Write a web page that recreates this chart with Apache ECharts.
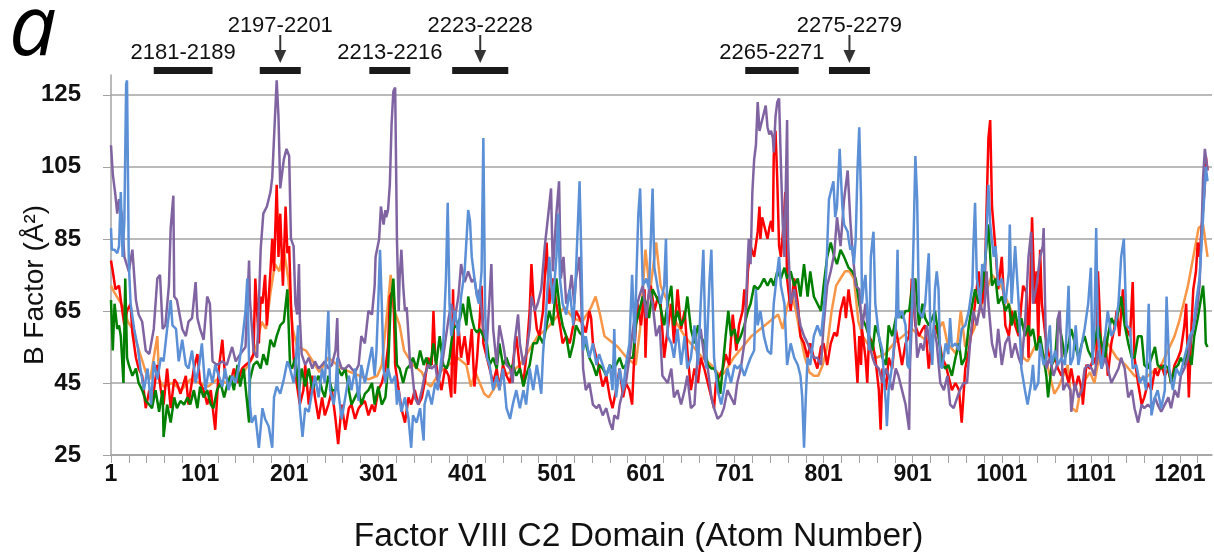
<!DOCTYPE html>
<html>
<head>
<meta charset="utf-8">
<script src="https://cdn.jsdelivr.net/npm/echarts@6/dist/echarts.min.js"></script>
<style>
  html, body { margin: 0; padding: 0; background: #fff; }
  #main { width: 1214px; height: 552px; }
</style>
</head>
<body>
<div id="main"></div>
<script>
  // atom axis + B factor ticks
  const atomCount = 1236
  const yTicks = [25, 45, 65, 85, 105, 125]

  // [atom number, B factor]
  const orange = [[1,72],[5,70],[10,68],[15,66],[20,62],[25,60],[30,56],[35,52],[40,48],[45,46],[53,58],[55,46],[60,44],[70,45],[80,43],[90,46],[100,45],[110,44],[120,46],[130,45],[140,47],[150,48],[160,52],[165,56],[170,62],[175,60],[180,70],[185,78],[190,76],[195,82],[200,74],[205,60],[210,55],[220,54],[225,52],[235,48],[245,52],[250,51],[260,49],[270,48],[280,47],[290,46],[300,47],[305,50],[310,62],[315,75],[318,66],[325,61],[330,54],[340,50],[350,48],[355,45],[360,44],[370,48],[380,50],[390,52],[400,50],[405,44],[410,48],[415,45],[420,42],[425,41],[430,43],[440,47],[450,48],[460,50],[470,54],[480,58],[490,60],[500,63],[510,66],[520,63],[530,62],[540,66],[545,69],[550,64],[555,58],[560,57],[570,55],[580,52],[590,50],[595,60],[601,82],[606,70],[613,84],[618,72],[625,68],[635,62],[645,58],[655,55],[665,52],[675,50],[685,47],[690,48],[700,52],[710,55],[720,58],[730,60],[740,62],[750,64],[755,60],[760,66],[765,70],[770,65],[775,58],[780,52],[785,48],[790,47],[795,47],[800,50],[805,55],[810,65],[815,72],[820,74],[825,76],[830,76],[835,74],[840,62],[845,58],[850,56],[855,55],[860,52],[870,53],[880,56],[890,58],[900,60],[910,58],[920,56],[930,60],[935,62],[940,56],[950,53],[955,65],[960,55],[970,60],[980,68],[990,75],[1000,72],[1010,66],[1020,60],[1025,52],[1030,51],[1040,56],[1050,52],[1060,42],[1065,44],[1075,50],[1080,38],[1085,37],[1090,44],[1100,48],[1105,45],[1110,52],[1120,56],[1130,52],[1140,50],[1150,47],[1160,46],[1165,47],[1170,48],[1180,50],[1195,58],[1200,62],[1210,72],[1222,88],[1227,89],[1232,80]]

  const red = [[1,79],[3,76],[6,71],[10,72],[12,68],[16,61],[19,65],[23,67],[25,59],[29,52],[32,49],[36,47],[40,38],[44,43],[47,39],[53,50],[57,43],[60,39],[64,49],[68,38],[72,46],[75,45],[79,42],[85,47],[88,39],[94,49],[98,53],[101,45],[105,43],[109,39],[113,43],[118,32],[122,49],[126,57],[129,47],[135,45],[139,49],[143,45],[148,49],[152,50],[157,51],[161,53],[163,74],[167,56],[169,69],[171,67],[174,75],[176,61],[180,76],[182,85],[184,76],[187,100],[189,80],[191,92],[194,72],[197,94],[199,81],[201,83],[203,67],[206,52],[210,44],[213,39],[217,43],[219,50],[223,39],[227,47],[230,41],[234,35],[238,41],[241,36],[245,39],[249,43],[253,35],[256,28],[260,39],[264,32],[268,38],[271,39],[275,35],[279,38],[282,39],[286,40],[290,36],[294,39],[297,37],[301,43],[305,45],[309,49],[312,55],[314,69],[318,71],[320,50],[324,43],[327,38],[331,34],[335,41],[338,39],[342,43],[346,39],[350,41],[353,45],[357,52],[361,50],[363,65],[365,52],[368,47],[372,43],[376,49],[380,47],[383,41],[385,71],[387,42],[391,61],[394,52],[398,58],[402,50],[406,60],[409,44],[412,52],[415,63],[417,72],[419,56],[423,52],[426,49],[430,45],[434,49],[437,43],[441,50],[445,47],[449,45],[452,50],[456,58],[460,49],[464,45],[467,52],[471,65],[473,78],[475,69],[479,60],[482,58],[486,65],[490,84],[493,67],[497,74],[501,67],[505,61],[508,56],[512,58],[516,56],[520,61],[523,65],[527,63],[531,61],[534,59],[538,65],[540,63],[542,56],[546,52],[549,49],[553,44],[557,47],[561,41],[564,38],[568,43],[572,49],[576,41],[579,45],[583,43],[586,39],[589,56],[592,67],[596,61],[600,71],[601,52],[603,67],[607,72],[611,65],[615,69],[618,67],[622,52],[626,60],[630,67],[633,56],[637,71],[641,60],[645,65],[648,54],[652,43],[656,49],[660,45],[663,52],[667,49],[671,45],[675,41],[678,38],[680,45],[684,47],[688,49],[691,53],[695,50],[699,64],[703,54],[706,61],[710,65],[712,71],[714,65],[716,76],[719,83],[723,80],[727,87],[729,94],[730,85],[732,91],[734,89],[736,87],[738,85],[740,88],[742,90],[744,87],[745,108],[747,115],[749,101],[751,83],[753,80],[756,89],[758,98],[760,74],[764,65],[768,74],[772,67],[775,58],[779,56],[783,52],[786,56],[790,52],[794,49],[798,55],[801,56],[805,50],[809,56],[813,59],[816,58],[820,65],[824,69],[826,63],[829,71],[831,67],[835,61],[839,45],[841,58],[843,50],[844,60],[848,52],[850,45],[852,58],[856,56],[859,52],[863,43],[865,32],[867,49],[871,43],[874,52],[878,49],[882,60],[885,56],[889,50],[893,56],[897,58],[900,74],[904,61],[908,58],[912,60],[915,61],[919,49],[923,58],[926,61],[930,58],[934,52],[938,50],[941,47],[945,43],[949,45],[953,43],[956,34],[960,49],[964,54],[968,61],[971,67],[975,76],[979,67],[982,74],[984,94],[986,113],[988,118],[990,94],[994,82],[997,71],[1001,80],[1005,61],[1009,58],[1012,65],[1016,61],[1020,58],[1023,67],[1025,72],[1029,70],[1031,52],[1035,91],[1038,67],[1040,76],[1042,56],[1044,82],[1046,67],[1050,58],[1053,54],[1057,50],[1061,52],[1064,49],[1068,47],[1072,49],[1076,45],[1079,49],[1083,43],[1087,47],[1091,43],[1092,39],[1096,50],[1100,49],[1104,52],[1107,50],[1109,76],[1113,52],[1117,58],[1120,47],[1124,56],[1128,61],[1130,65],[1133,58],[1137,71],[1141,60],[1145,58],[1148,73],[1150,52],[1154,45],[1158,39],[1161,41],[1165,45],[1169,43],[1173,49],[1176,47],[1180,50],[1184,47],[1188,49],[1191,45],[1195,50],[1199,52],[1202,54],[1206,61],[1208,67],[1211,41],[1214,61],[1216,71],[1219,76],[1221,84],[1223,80],[1226,90],[1229,100],[1230,108],[1232,104]]

  const green = [[1,68],[3,54],[5,67],[8,60],[10,61],[12,58],[15,45],[17,74],[19,52],[21,50],[25,47],[29,49],[32,45],[36,43],[40,40],[44,39],[47,38],[51,43],[55,37],[59,43],[60,30],[64,39],[68,34],[72,41],[75,38],[79,40],[83,39],[87,41],[90,39],[94,43],[98,38],[101,44],[105,41],[109,43],[113,39],[116,38],[120,43],[124,45],[128,41],[131,44],[135,47],[139,43],[143,50],[146,44],[150,49],[154,39],[156,34],[157,46],[161,50],[165,51],[169,49],[172,53],[176,50],[180,57],[184,55],[187,58],[191,61],[195,62],[199,71],[202,50],[204,49],[208,52],[212,43],[215,49],[219,44],[223,49],[227,43],[230,45],[234,47],[238,43],[241,41],[245,47],[249,43],[253,43],[256,49],[260,47],[264,49],[268,43],[271,39],[275,41],[279,43],[282,39],[286,42],[290,43],[294,45],[297,39],[301,44],[305,39],[309,41],[312,49],[315,67],[318,74],[320,63],[322,50],[325,49],[329,45],[333,49],[337,50],[340,52],[344,49],[348,54],[352,50],[355,52],[359,49],[363,56],[366,50],[370,58],[374,50],[378,49],[381,52],[385,60],[389,61],[393,63],[396,67],[400,61],[402,69],[406,63],[409,60],[412,59],[415,60],[419,58],[423,56],[426,50],[430,52],[434,49],[437,56],[441,50],[445,52],[449,49],[452,50],[456,47],[460,49],[464,44],[467,47],[471,50],[475,56],[479,56],[482,58],[486,56],[490,61],[493,65],[497,61],[501,74],[505,65],[508,61],[512,58],[516,52],[520,56],[523,61],[527,59],[531,58],[534,56],[538,52],[542,50],[546,47],[549,50],[553,49],[557,47],[561,50],[564,49],[568,50],[572,52],[576,49],[579,50],[583,52],[587,52],[590,61],[594,65],[598,69],[602,67],[605,63],[609,71],[613,69],[617,67],[622,61],[626,67],[630,72],[633,61],[637,65],[641,61],[645,63],[648,69],[652,60],[656,56],[660,61],[663,58],[667,56],[671,50],[675,49],[678,49],[682,47],[685,42],[688,50],[691,58],[694,65],[697,58],[701,60],[704,56],[708,58],[712,61],[716,65],[719,67],[723,72],[727,71],[730,72],[734,74],[738,72],[742,74],[745,72],[749,76],[753,74],[757,77],[760,74],[764,76],[768,72],[772,74],[775,69],[779,78],[783,69],[786,76],[790,69],[794,67],[798,65],[801,72],[805,80],[809,84],[813,80],[816,78],[820,82],[824,80],[829,77],[833,76],[837,74],[841,67],[844,63],[848,61],[852,58],[856,54],[859,61],[863,58],[867,52],[871,50],[874,61],[878,58],[882,63],[885,65],[889,63],[893,65],[897,65],[900,71],[904,74],[908,61],[912,67],[915,63],[919,61],[923,63],[926,65],[930,58],[934,50],[938,49],[941,50],[945,47],[949,52],[953,56],[956,50],[960,52],[964,61],[968,67],[971,71],[975,67],[979,71],[982,78],[986,89],[990,72],[994,74],[997,67],[1001,69],[1005,65],[1009,67],[1012,61],[1016,65],[1020,59],[1023,63],[1027,58],[1031,61],[1033,58],[1036,60],[1040,54],[1044,58],[1048,52],[1051,47],[1053,41],[1057,50],[1061,52],[1064,63],[1068,58],[1072,52],[1076,56],[1079,60],[1083,56],[1087,52],[1091,56],[1094,58],[1098,54],[1102,52],[1105,56],[1109,61],[1113,56],[1117,52],[1120,58],[1124,63],[1128,61],[1132,65],[1135,69],[1139,61],[1143,56],[1147,52],[1150,52],[1154,58],[1158,58],[1161,50],[1165,49],[1169,52],[1173,55],[1176,50],[1180,49],[1184,50],[1188,49],[1191,45],[1195,49],[1199,50],[1202,52],[1206,50],[1210,54],[1214,50],[1217,58],[1221,63],[1225,69],[1227,72],[1229,65],[1230,56],[1232,55]]

  const purple = [[1,111],[3,103],[6,97],[8,92],[10,96],[13,92],[16,80],[21,76],[25,82],[27,82],[29,68],[32,64],[36,62],[40,54],[44,53],[49,60],[53,74],[56,75],[59,60],[62,61],[66,72],[68,88],[71,97],[72,69],[75,68],[81,60],[85,58],[88,62],[92,63],[96,73],[98,63],[101,60],[105,57],[109,69],[112,67],[115,51],[120,50],[126,51],[131,50],[137,55],[141,51],[146,53],[152,55],[156,79],[157,68],[161,54],[165,52],[169,82],[172,92],[176,94],[180,98],[182,102],[184,113],[187,129],[189,119],[191,99],[195,107],[198,110],[201,108],[203,85],[206,83],[208,67],[210,64],[212,78],[213,63],[215,53],[219,50],[223,52],[227,49],[230,51],[234,49],[238,50],[241,51],[245,49],[249,50],[253,54],[255,63],[256,52],[260,49],[264,49],[268,50],[271,49],[275,48],[279,50],[282,58],[286,56],[290,65],[294,64],[297,72],[298,80],[300,80],[302,85],[304,94],[307,89],[309,93],[310,91],[312,93],[314,100],[316,117],[318,126],[320,127],[322,85],[324,65],[325,74],[327,82],[329,72],[331,65],[333,66],[335,58],[337,49],[338,51],[342,41],[346,39],[350,43],[353,47],[357,50],[361,49],[365,50],[368,45],[372,49],[376,56],[380,63],[383,67],[387,63],[391,69],[394,78],[398,73],[402,76],[406,73],[409,74],[412,69],[415,71],[419,60],[423,56],[426,69],[428,78],[430,60],[434,50],[437,61],[441,56],[445,50],[449,49],[452,45],[454,56],[458,64],[460,56],[464,50],[467,53],[471,60],[473,69],[477,65],[480,67],[484,71],[488,83],[492,92],[495,99],[497,76],[501,92],[504,101],[506,74],[509,80],[512,67],[516,71],[518,75],[521,67],[523,74],[527,80],[529,67],[531,49],[534,43],[538,45],[542,39],[546,38],[549,39],[553,36],[557,38],[561,34],[564,32],[566,36],[570,35],[572,39],[576,43],[579,45],[583,52],[587,60],[590,65],[594,69],[598,72],[602,63],[605,71],[609,67],[613,58],[617,61],[620,47],[622,47],[626,45],[630,49],[633,41],[637,43],[641,39],[645,43],[648,47],[652,38],[656,39],[658,47],[661,58],[663,60],[667,52],[671,49],[675,41],[678,38],[682,35],[686,36],[689,38],[693,43],[697,41],[701,39],[704,45],[708,49],[712,56],[716,80],[717,85],[719,78],[721,98],[723,107],[725,111],[727,123],[729,115],[732,118],[734,120],[736,122],[738,116],[740,114],[742,115],[744,113],[745,109],[747,119],[749,123],[751,124],[753,106],[755,90],[757,80],[760,118],[761,85],[764,67],[768,71],[772,65],[775,61],[779,58],[783,56],[786,54],[790,52],[794,52],[798,50],[801,61],[805,72],[809,76],[813,81],[816,91],[820,83],[824,96],[828,104],[831,90],[833,83],[837,72],[841,71],[844,60],[848,67],[852,56],[856,52],[859,50],[863,49],[867,45],[871,49],[874,47],[878,43],[882,49],[885,47],[889,43],[893,39],[897,32],[898,50],[902,74],[906,52],[910,56],[913,54],[917,61],[921,54],[925,60],[928,56],[932,45],[936,43],[940,47],[943,39],[947,38],[951,41],[954,43],[958,45],[962,45],[966,58],[969,65],[973,61],[977,67],[981,63],[984,76],[986,67],[990,56],[994,52],[997,60],[1001,50],[1005,56],[1009,58],[1012,52],[1016,56],[1020,52],[1023,50],[1027,61],[1031,80],[1034,87],[1036,67],[1040,72],[1044,80],[1047,83],[1048,88],[1051,49],[1055,52],[1059,47],[1063,50],[1064,63],[1066,65],[1070,43],[1074,45],[1078,43],[1079,37],[1083,45],[1087,41],[1091,43],[1094,49],[1098,50],[1102,49],[1105,47],[1109,54],[1113,49],[1117,52],[1120,49],[1124,45],[1128,47],[1132,49],[1135,52],[1139,49],[1143,41],[1147,43],[1150,38],[1154,34],[1158,39],[1161,38],[1165,39],[1169,38],[1173,41],[1176,39],[1180,37],[1184,39],[1188,41],[1191,38],[1195,43],[1199,41],[1202,47],[1206,49],[1210,52],[1214,58],[1217,61],[1221,67],[1223,72],[1225,85],[1227,102],[1229,110],[1230,110],[1232,104]]

  const blue = [[1,88],[2,82],[5,82],[8,81],[10,83],[12,98],[14,80],[16,90],[18,128],[19,129],[21,78],[23,67],[27,60],[31,55],[34,49],[38,43],[42,49],[46,39],[49,51],[53,46],[57,52],[60,51],[64,60],[68,68],[70,61],[74,60],[77,51],[81,57],[85,50],[88,49],[92,54],[96,45],[100,50],[103,56],[107,43],[111,49],[115,45],[118,50],[122,47],[126,44],[129,49],[133,43],[137,47],[141,45],[144,49],[148,56],[152,65],[154,74],[157,39],[159,34],[163,36],[167,27],[171,38],[174,35],[178,33],[182,27],[184,41],[187,44],[191,42],[195,46],[199,51],[202,49],[206,45],[208,49],[211,61],[213,38],[216,30],[219,38],[223,37],[227,43],[230,47],[234,41],[238,49],[241,45],[245,65],[247,43],[251,39],[253,43],[255,52],[256,43],[260,35],[264,41],[268,47],[271,43],[275,49],[279,40],[282,50],[286,45],[290,50],[294,55],[297,47],[299,54],[301,67],[303,82],[305,67],[307,49],[309,45],[312,49],[316,45],[320,47],[322,39],[324,43],[327,37],[331,41],[335,35],[338,27],[340,36],[344,34],[348,38],[352,29],[353,39],[357,43],[361,39],[365,45],[368,43],[371,50],[374,56],[377,74],[379,95],[381,67],[383,58],[387,65],[391,58],[394,69],[398,76],[402,93],[404,90],[406,80],[409,74],[412,69],[414,67],[417,76],[419,113],[421,65],[423,52],[426,50],[430,43],[434,47],[437,43],[441,49],[445,38],[449,35],[452,39],[456,43],[460,38],[464,43],[467,39],[471,49],[475,43],[479,50],[481,47],[484,42],[486,53],[490,67],[493,80],[497,67],[501,80],[503,92],[505,74],[508,67],[512,64],[516,71],[520,61],[523,76],[527,101],[529,80],[531,54],[534,58],[538,52],[542,56],[546,50],[549,53],[553,50],[557,47],[561,50],[564,43],[566,60],[568,41],[572,49],[576,43],[579,50],[583,56],[586,75],[589,56],[591,76],[593,92],[595,99],[598,72],[602,74],[605,71],[609,99],[611,77],[615,71],[618,67],[622,72],[624,85],[626,58],[630,56],[633,52],[637,60],[641,50],[645,58],[648,49],[652,52],[656,61],[660,50],[663,67],[666,82],[669,49],[673,74],[675,82],[678,52],[682,43],[686,39],[689,43],[693,49],[697,45],[701,50],[704,49],[708,50],[712,47],[716,50],[719,52],[723,54],[725,71],[727,61],[730,65],[734,58],[738,54],[742,53],[745,67],[749,76],[751,80],[753,72],[757,67],[760,50],[764,56],[768,52],[772,50],[775,47],[777,41],[779,27],[781,41],[783,52],[786,50],[790,58],[794,61],[798,58],[801,65],[804,76],[807,96],[809,98],[812,101],[814,91],[816,94],[819,110],[822,94],[824,89],[828,87],[829,85],[831,82],[833,83],[835,78],[837,85],[839,104],[841,116],[843,96],[844,67],[846,72],[848,75],[850,65],[852,54],[854,80],[856,85],[857,87],[859,67],[863,58],[867,54],[869,45],[871,39],[872,33],[874,43],[878,50],[882,60],[884,82],[885,63],[889,65],[893,61],[895,50],[897,49],[898,56],[900,65],[902,85],[904,108],[906,96],[908,65],[912,63],[915,67],[919,81],[921,58],[923,50],[926,71],[928,76],[930,71],[932,50],[934,49],[938,56],[941,53],[943,63],[945,55],[949,56],[953,54],[956,60],[960,61],[964,65],[968,72],[969,82],[971,95],[973,74],[977,67],[979,78],[982,76],[986,100],[988,89],[992,80],[994,83],[997,72],[1001,74],[1005,67],[1009,76],[1010,89],[1012,67],[1016,83],[1020,67],[1023,49],[1027,43],[1030,39],[1034,45],[1036,50],[1038,43],[1042,45],[1044,56],[1048,50],[1051,52],[1055,61],[1057,50],[1061,54],[1064,50],[1068,52],[1072,50],[1076,72],[1078,50],[1081,52],[1084,61],[1087,50],[1091,56],[1094,60],[1098,67],[1101,77],[1103,50],[1105,61],[1107,88],[1109,58],[1113,49],[1117,58],[1120,65],[1124,58],[1128,60],[1132,67],[1135,80],[1138,85],[1141,61],[1145,60],[1148,49],[1152,50],[1156,45],[1160,47],[1163,43],[1166,67],[1169,36],[1173,41],[1176,43],[1180,38],[1184,43],[1186,69],[1189,49],[1193,43],[1197,49],[1201,47],[1204,50],[1208,54],[1212,58],[1216,60],[1219,67],[1223,74],[1227,91],[1230,105],[1232,101]]

  // residue spans marked above the plot (atom range)
  const spanLabels = ['2181-2189', '2197-2201', '2213-2216', '2223-2228', '2265-2271', '2275-2279']
  const spanStart = [49, 168, 291, 384, 713, 807]
  const spanEnd = [115, 214, 337, 447, 773, 853]
  const spanArrow = [false, true, false, true, false, true]

  const gridColor = '#a3a3a3'
  const textFont = 'Liberation Sans'

  const myChart = echarts.init(document.getElementById('main'))

  function lineSeries(name, pts, color) {
    return {
      name: name,
      type: 'line',
      data: pts.map(p => [p[0] - 1, p[1]]),
      symbol: 'none',
      lineStyle: { color: color, width: 2.5 },
      itemStyle: { color: color }
    }
  }

  let option = {
    animation: false,
    // keep the plot box fixed, names sit outside it
    grid: { left: 111, right: 2, top: 75, bottom: 97, outerBoundsMode: 'none' },
    xAxis: {
      type: 'value',
      min: 0,
      max: atomCount,
      interval: 20,
      name: 'Factor VIII C2 Domain (Atom Number)',
      nameLocation: 'middle',
      nameGap: 65,
      nameMoveOverlap: false,
      nameTextStyle: { fontFamily: textFont, fontSize: 33.5, color: '#111', padding: [0, 46, 0, 0] },
      axisLine: { lineStyle: { color: gridColor, width: 1.5 } },
      axisTick: { length: 8, lineStyle: { color: gridColor } },
      axisLabel: {
        formatter: v => (v % 100 === 0 && v <= 1200) ? String(v + 1) : '',
        fontFamily: textFont, fontWeight: 'bold', fontSize: 23, color: '#111', margin: 8,
        showMaxLabel: false
      },
      splitLine: { show: false }
    },
    yAxis: {
      type: 'value',
      min: 25,
      max: 130.5,
      interval: 20,
      name: 'B Factor (Å²)',
      nameLocation: 'middle',
      nameGap: 62,
      nameMoveOverlap: false,
      nameTextStyle: { fontFamily: textFont, fontSize: 28, color: '#111', padding: [0, 40, 0, 0] },
      axisLine: { show: true, lineStyle: { color: gridColor, width: 1.5 } },
      axisTick: { show: true, length: 8, lineStyle: { color: gridColor } },
      axisLabel: {
        formatter: v => yTicks.includes(v) ? String(v) : '',
        fontFamily: textFont, fontWeight: 'bold', fontSize: 24, color: '#111', margin: 30,
        showMaxLabel: false
      },
      splitLine: { show: true, showMaxLine: false, lineStyle: { color: gridColor, width: 1.5 } }
    },
    series: [
      lineSeries('orange', orange, '#f79646'),
      lineSeries('red', red, '#ff0000'),
      lineSeries('green', green, '#008000'),
      lineSeries('purple', purple, '#8064a2'),
      lineSeries('blue', blue, '#5b8fd6')
    ]
  }
  myChart.setOption(option)

  // labels, bars and arrows above the plot, placed through the x axis
  const px = a => myChart.convertToPixel({ xAxisIndex: 0 }, a - 1)
  const graphics = [{
    type: 'text',
    style: { text: 'a', x: 9, y: 73, font: 'italic 84px "Open Sans"', fill: '#000', textAlign: 'left', textVerticalAlign: 'bottom' }
  }]
  spanLabels.forEach((label, i) => {
    const x0 = px(spanStart[i])
    const x1 = px(spanEnd[i])
    const xc = (x0 + x1) / 2
    graphics.push({ type: 'rect', shape: { x: x0, y: 67, width: x1 - x0, height: 7 }, style: { fill: '#1a1a1a' } })
    const ty = spanArrow[i] ? 26 : 53
    graphics.push({
      type: 'text',
      style: { text: label, x: xc, y: ty, font: '22px "' + textFont + '"', fill: '#111', textAlign: 'center', textVerticalAlign: 'middle' }
    })
    if (spanArrow[i]) {
      graphics.push({ type: 'line', shape: { x1: xc, y1: 35, x2: xc, y2: 52 }, style: { stroke: '#333', lineWidth: 2 } })
      graphics.push({ type: 'polygon', shape: { points: [[xc - 6, 50], [xc + 6, 50], [xc, 63]] }, style: { fill: '#333' } })
    }
  })
  myChart.setOption({ graphic: graphics })
</script>
</body>
</html>
